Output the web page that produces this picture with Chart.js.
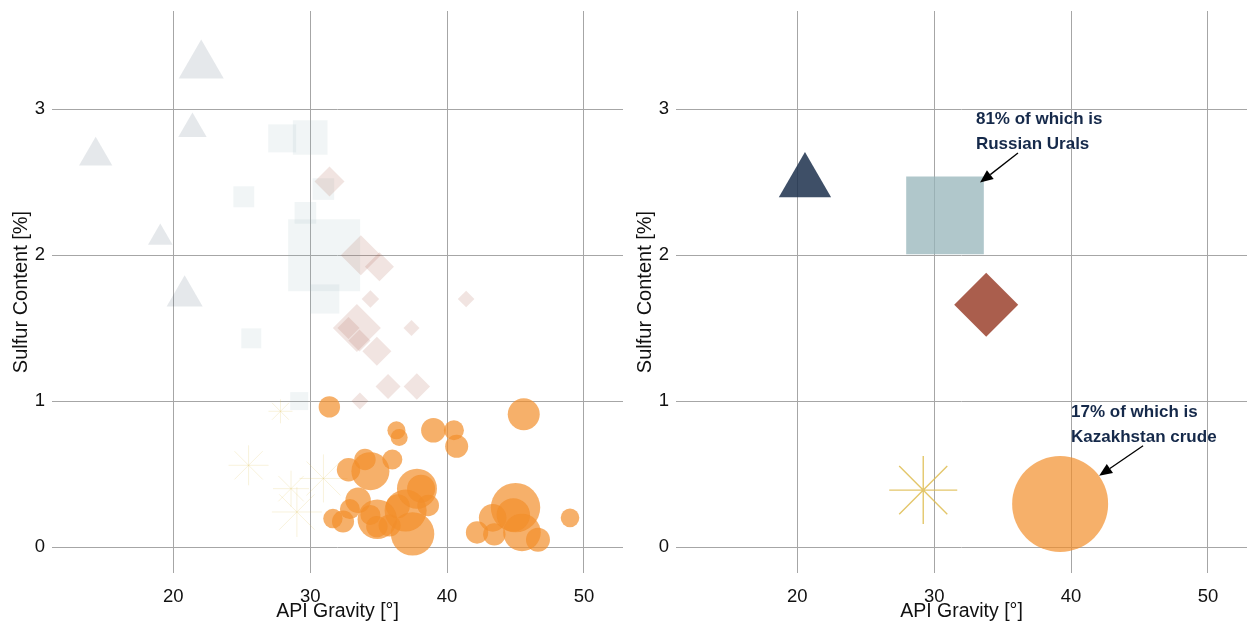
<!DOCTYPE html>
<html>
<head>
<meta charset="utf-8">
<script src="https://cdn.jsdelivr.net/npm/chart.js@4.4.1/dist/chart.umd.min.js"></script>
<style>
html,body{margin:0;padding:0;background:#fff;}
#wrap{position:relative;width:1249px;height:627px;overflow:hidden;}
.panel{position:absolute;top:0;height:627px;}
#p1{left:0;width:624px;}
#p2{left:624px;width:625px;}
</style>
</head>
<body>
<div id="wrap">
  <div class="panel" id="p1"><canvas id="c1"></canvas></div>
  <div class="panel" id="p2"><canvas id="c2"></canvas></div>
</div>
<script>
// ---------- axis labels ----------
const xTickValues = [20, 30, 40, 50];
const yTickValues = [0, 1, 2, 3];
const xTitle = 'API Gravity [°]';
const yTitle = 'Sulfur Content [%]';

// ---------- left panel: individual crudes (API gravity, sulfur %, marker size) ----------
const triApi    = [22.04, 21.4, 14.33, 19.05, 20.83];
const triSulfur = [3.30, 2.865, 2.68, 2.12, 1.72];
const triSize   = [26, 16.4, 19.2, 14.2, 20.8];

const sqApi    = [27.96, 30.0, 25.15, 30.96, 29.65, 31.02, 31.06, 25.7, 29.2];
const sqSulfur = [2.80, 2.806, 2.40, 2.453, 2.29, 2.00, 1.70, 1.43, 1.00];
const sqSize   = [19.8, 24.5, 14.8, 15.3, 15.3, 50.9, 20.7, 14.1, 12.7];

const dmApi    = [31.41, 33.70, 35.06, 34.40, 41.39, 33.41, 32.8, 33.6, 34.87, 37.4, 35.69, 37.79, 33.63];
const dmSulfur = [2.505, 2.00, 1.92, 1.70, 1.70, 1.50, 1.50, 1.416, 1.342, 1.50, 1.10, 1.10, 1.00];
const dmSize   = [15, 20, 14.5, 8.7, 8.3, 24, 11, 11, 14.5, 8, 12.5, 13.2, 8.5];

const stApi    = [27.83, 25.5, 28.6, 30.97, 29.03];
const stSulfur = [0.93, 0.56, 0.40, 0.47, 0.24];
const stSize   = [12, 20, 18, 24, 25];

const ciApi    = [31.4, 36.3, 36.5, 39.0, 40.5, 40.7, 45.6, 32.8, 34.0, 34.4, 36.0, 37.8, 38.1, 38.62, 33.5, 31.66, 32.4, 32.9, 34.9, 34.4, 34.87, 36.97, 37.48, 35.8, 36.4, 45.0, 44.84, 43.33, 42.19, 43.45, 45.47, 46.64, 48.98];
const ciSulfur = [0.96, 0.80, 0.75, 0.80, 0.80, 0.69, 0.91, 0.53, 0.60, 0.52, 0.60, 0.40, 0.40, 0.285, 0.32, 0.195, 0.175, 0.26, 0.19, 0.22, 0.14, 0.25, 0.09, 0.148, 0.28, 0.27, 0.22, 0.20, 0.10, 0.087, 0.10, 0.05, 0.20];
const ciSize   = [10.7, 9, 8.5, 12.3, 10, 11.5, 16, 11.7, 10.7, 19, 10, 20, 14, 10.8, 12.7, 9.7, 11, 10, 19.7, 10, 10.7, 21, 21.7, 11, 12, 24.7, 16.7, 13.8, 11.2, 11.2, 18.8, 12, 9.3];

// ---------- right panel: class averages ----------
const avgApi    = [20.56, 30.79, 33.8, 29.2, 39.2];
const avgSulfur = [2.50, 2.273, 1.66, 0.39, 0.295];
const avgSize   = [30.2, 54.9, 32, 34, 48];

// ---------- annotations ----------
const note1Lines = ['81% of which is', 'Russian Urals'];
const note2Lines = ['17% of which is', 'Kazakhstan crude'];
const note1Pos = {x: 33.05, y: [2.93, 2.76], from: [36.12, 2.70], to: [33.35, 2.497]};
const note2Pos = {x: 40.0, y: [0.92, 0.749], from: [45.26, 0.694], to: [42.05, 0.488]};

// ---------- styles ----------
const FONT = "'Liberation Sans', Arial, Helvetica, sans-serif";
Chart.defaults.font.family = FONT;

const colTri = 'rgba(30,50,78,', colSq = 'rgba(150,180,186,', colDm = 'rgba(165,85,67,',
      colSt = 'rgba(222,188,80,', colCi = 'rgba(242,142,43,';

function pts(xs, ys) { return xs.map((v, i) => ({x: v, y: ys[i]})); }

function fillSet(label, xs, ys, sizes, style, color) {
  return {label, data: pts(xs, ys), pointStyle: style, pointRadius: sizes,
          backgroundColor: color, borderColor: color, borderWidth: 0, clip: false};
}
function starSet(label, xs, ys, sizes, color, w) {
  return {label, data: pts(xs, ys), pointStyle: 'star', pointRadius: sizes,
          backgroundColor: 'rgba(0,0,0,0)', borderColor: color, borderWidth: w, clip: false};
}

function makeScales() {
  return {
    x: {
      type: 'linear', min: 11.14, max: 52.85,
      border: {display: false},
      grid: {color: '#a6a6a6', lineWidth: 1, drawTicks: false},
      ticks: {padding: 13, color: '#111', font: {size: 18.5}},
      afterBuildTicks: s => { s.ticks = xTickValues.map(v => ({value: v})); },
      afterFit: s => { s.height = 54; s.paddingLeft = 0; s.paddingRight = 0; },
      title: {display: true, text: xTitle, color: '#111', font: {size: 19.5}, padding: {top: 0, bottom: 4}}
    },
    y: {
      type: 'linear', min: -0.178, max: 3.673,
      border: {display: false},
      grid: {color: '#a6a6a6', lineWidth: 1, drawTicks: false},
      ticks: {padding: 7, color: '#111', font: {size: 18.5}},
      afterBuildTicks: s => { s.ticks = yTickValues.map(v => ({value: v})); },
      afterFit: s => { s.width = 52; s.paddingTop = 0; s.paddingBottom = 0; },
      title: {display: true, text: yTitle, color: '#111', font: {size: 20}, padding: {top: 9, bottom: 0}}
    }
  };
}

const calloutPlugin = {
  id: 'callouts',
  afterDatasetsDraw(chart, args, opts) {
    if (!opts.items) return;
    const ctx = chart.ctx, xs = chart.scales.x, ys = chart.scales.y;
    ctx.save();
    opts.items.forEach(it => {
      ctx.font = 'bold 17px ' + FONT;
      ctx.fillStyle = '#15294a';
      ctx.textAlign = 'left';
      ctx.textBaseline = 'middle';
      it.lines.forEach((t, i) => ctx.fillText(t, xs.getPixelForValue(it.pos.x), ys.getPixelForValue(it.pos.y[i])));
      const x1 = xs.getPixelForValue(it.pos.from[0]), y1 = ys.getPixelForValue(it.pos.from[1]);
      const x2 = xs.getPixelForValue(it.pos.to[0]), y2 = ys.getPixelForValue(it.pos.to[1]);
      const ang = Math.atan2(y2 - y1, x2 - x1), hl = 13, hw = 5.5;
      const bx = x2 - hl * Math.cos(ang), by = y2 - hl * Math.sin(ang);
      ctx.strokeStyle = '#000'; ctx.lineWidth = 1.3;
      ctx.beginPath(); ctx.moveTo(x1, y1); ctx.lineTo(bx, by); ctx.stroke();
      ctx.fillStyle = '#000';
      ctx.beginPath();
      ctx.moveTo(x2, y2);
      ctx.lineTo(bx + hw * Math.sin(ang), by - hw * Math.cos(ang));
      ctx.lineTo(bx - hw * Math.sin(ang), by + hw * Math.cos(ang));
      ctx.closePath(); ctx.fill();
    });
    ctx.restore();
  }
};

function baseOptions(items) {
  return {
    responsive: true, maintainAspectRatio: false, animation: false, events: [],
    layout: {autoPadding: false, padding: {top: 11, right: 1, left: 0, bottom: 0}},
    scales: makeScales(),
    plugins: {legend: {display: false}, tooltip: {enabled: false}, callouts: {items}}
  };
}

// Left panel (datasets listed top-most first)
new Chart(document.getElementById('c1'), {
  type: 'scatter',
  data: {datasets: [
    fillSet('Light sweet', ciApi, ciSulfur, ciSize, 'circle', colCi + '0.7)'),
    starSet('Medium sweet', stApi, stSulfur, stSize, colSt + '0.2)', 1),
    fillSet('Medium sour', dmApi, dmSulfur, dmSize, 'rectRot', colDm + '0.16)'),
    fillSet('Sour', sqApi, sqSulfur, sqSize, 'rect', colSq + '0.133)'),
    fillSet('Heavy sour', triApi, triSulfur, triSize, 'triangle', colTri + '0.115)')
  ]},
  options: baseOptions(null),
  plugins: [calloutPlugin]
});

// Right panel: averages
const right = baseOptions([{lines: note1Lines, pos: note1Pos}, {lines: note2Lines, pos: note2Pos}]);
right.layout.padding.right = 2;
new Chart(document.getElementById('c2'), {
  type: 'scatter',
  data: {datasets: [
    fillSet('Light sweet', [avgApi[4]], [avgSulfur[4]], [avgSize[4]], 'circle', colCi + '0.7)'),
    starSet('Medium sweet', [avgApi[3]], [avgSulfur[3]], [avgSize[3]], colSt + '0.85)', 1.4),
    fillSet('Medium sour', [avgApi[2]], [avgSulfur[2]], [avgSize[2]], 'rectRot', colDm + '0.95)'),
    fillSet('Sour', [avgApi[1]], [avgSulfur[1]], [avgSize[1]], 'rect', colSq + '0.75)'),
    fillSet('Heavy sour', [avgApi[0]], [avgSulfur[0]], [avgSize[0]], 'triangle', colTri + '0.86)')
  ]},
  options: right,
  plugins: [calloutPlugin]
});
</script>
</body>
</html>
